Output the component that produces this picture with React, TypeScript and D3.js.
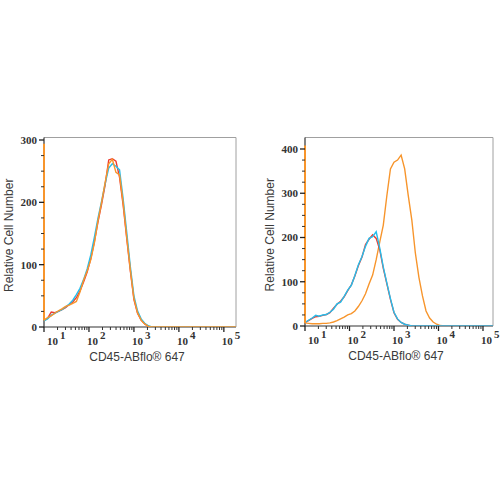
import * as d3 from "d3"

// histogram bins (fluorescence intensity, log spaced)
const BINS = [
  10, 12, 14.5, 17.4, 20.9, 25.1, 30.2, 36.3, 43.7, 52.5, 63.1, 75.9, 91.2, 110, 132, 158,
  191, 229, 275, 331, 398, 479, 575, 692, 832, 1000, 1202, 1445, 1738, 2089, 2512, 3020,
  3631, 4365, 5248, 6310, 7586, 9120, 10965, 13183, 200000,
]

// left panel
const LEFT_RED = [
  10, 14, 24, 23, 25, 28, 31, 36, 40, 47, 58, 72, 88, 110, 137, 168, 197, 228, 268, 270, 266,
  240, 196, 142, 90, 44, 22, 11, 5, 1, 0, 0, 0, 0, 0, 0, 0, 0, 0, 0, 0,
]
const LEFT_ORANGE = [
  11, 15, 18, 22, 26, 29, 33, 35, 38, 41, 56, 75, 90, 108, 135, 170, 200, 232, 262, 269, 248,
  244, 200, 144, 92, 46, 23, 11, 5, 1, 0, 0, 0, 0, 0, 0, 0, 0, 0, 0, 0,
]
const LEFT_CYAN = [
  10, 13, 19, 22, 25, 28, 32, 37, 43, 52, 62, 76, 93, 116, 144, 174, 202, 230, 255, 262, 258,
  252, 206, 152, 97, 50, 26, 13, 6, 2, 0, 0, 0, 0, 0, 0, 0, 0, 0, 0, 0,
]
const LEFT_ORANGE_SPIKE = 294

// right panel
const RIGHT_RED = [
  8, 12, 17, 21, 22, 24, 26, 30, 40, 49, 56, 66, 80, 93, 113, 136, 156, 184, 196, 206, 198,
  172, 130, 95, 60, 30, 15, 8, 4, 2, 0, 0, 0, 0, 0, 0, 0, 0, 0, 0, 0,
]
const RIGHT_CYAN = [
  8, 13, 18, 24, 22, 25, 26, 31, 38, 50, 54, 67, 81, 92, 114, 138, 157, 180, 198, 202, 213,
  176, 133, 97, 62, 31, 16, 8, 4, 2, 0, 0, 0, 0, 0, 0, 0, 0, 0, 0, 0,
]
const RIGHT_ORANGE = [
  7, 6, 5, 5, 5, 6, 6, 7, 9, 12, 16, 20, 25, 28, 34, 44, 57, 73, 95, 115, 150, 190, 228, 295,
  355, 370, 375, 386, 355, 295, 240, 165, 110, 68, 34, 18, 9, 4, 1, 0, 0,
]
const RIGHT_ORANGE_SPIKE = 408

const X_TICKS = [10, 100, 1000, 10000, 100000]
const LEFT_Y_TICKS = [0, 100, 200, 300]
const RIGHT_Y_TICKS = [0, 100, 200, 300, 400]

const X_TITLE = "CD45-ABflo® 647"
const Y_TITLE = "Relative Cell Number"

const RED = "#ee3b2f"
const ORANGE = "#f7952c"
const CYAN = "#25bdec"

interface PanelProps {
  id: string
  x0: number
  x1: number
  yTop: number
  yBottom: number
  xMax: number
  y0Px: number
  yMaxPx: number
  yTicks: number[]
  series: { values: number[]; color: string; spike?: number }[]
}

function Panel({ id, x0, x1, yTop, yBottom, xMax, y0Px, yMaxPx, yTicks, series }: PanelProps) {
  const yMaxTick = yTicks[yTicks.length - 1]
  const x = d3.scaleLog().domain([10, xMax]).range([x0, x1])
  const y = d3.scaleLinear().domain([0, yMaxTick]).range([y0Px, yMaxPx])
  const line = d3
    .line<[number, number]>()
    .x((d) => x(d[0]))
    .y((d) => y(d[1]))

  const minor: number[] = []
  for (let dec = 10; dec < xMax; dec *= 10) {
    for (let k = 2; k <= 9; k++) if (dec * k < xMax) minor.push(dec * k)
  }
  const yMinor = d3.range(0, yMaxTick + 1, 25).filter((v) => v % 100 !== 0)
  const spikes = series.filter((s) => s.spike !== undefined)

  return (
    <g>
      <defs>
        <clipPath id={id}>
          <rect x={x0} y={yTop} width={x1 - x0} height={yBottom - yTop} />
        </clipPath>
      </defs>
      {/* frame */}
      <path d={`M${x0},${yTop}H${x1}V${yBottom}`} fill="none" stroke="#a0a0a0" strokeWidth={1} />
      <path d={`M${x0},${yTop}V${yBottom}H${x1}`} fill="none" stroke="#333" strokeWidth={1.2} />
      <g clipPath={`url(#${id})`}>
        {series.map((s, i) => {
          const pts: [number, number][] = BINS.map((b, j) => [b, s.values[j]])
          return <path key={i} d={line(pts) ?? ""} fill="none" stroke={s.color} strokeWidth={1.4} />
        })}
      </g>
      {spikes.map((s, i) => (
        <line
          key={"spike" + i}
          x1={x0}
          x2={x0}
          y1={y(s.spike as number)}
          y2={y(s.values[0])}
          stroke={s.color}
          strokeWidth={2}
        />
      ))}
      {/* x ticks */}
      {minor.map((v) => (
        <line key={v} x1={x(v)} x2={x(v)} y1={yBottom} y2={yBottom + 3} stroke="#333" strokeWidth={1} />
      ))}
      {X_TICKS.map((v, i) => (
        <g key={v}>
          <line x1={x(v)} x2={x(v)} y1={yBottom} y2={yBottom + 5} stroke="#222" strokeWidth={1.3} />
          <text
            x={x(v) + (i === 0 ? 3 : -2)}
            y={yBottom + 18}
            fontFamily="'Liberation Serif', serif"
            fontWeight="bold"
            fontSize={11}
            fill="#333"
          >
            10
            <tspan dx={2} dy={-6} fontSize={11}>
              {Math.round(Math.log10(v))}
            </tspan>
          </text>
        </g>
      ))}
      {/* y ticks */}
      {yMinor.map((v) => (
        <line key={v} x1={x0 - 3} x2={x0} y1={y(v)} y2={y(v)} stroke="#333" strokeWidth={1} />
      ))}
      {yTicks.map((v) => (
        <g key={v}>
          <line x1={x0 - 5} x2={x0} y1={y(v)} y2={y(v)} stroke="#222" strokeWidth={1.3} />
          <text
            x={x0 - 7}
            y={y(v)}
            dy="0.35em"
            textAnchor="end"
            fontFamily="'Liberation Serif', serif"
            fontWeight="bold"
            fontSize={11}
            fill="#333"
          >
            {v}
          </text>
        </g>
      ))}
      <text
        x={(x0 + x1) / 2 - 3}
        y={yBottom + 34}
        textAnchor="middle"
        fontFamily="'Liberation Sans', Arial, sans-serif"
        fontSize={12}
        fill="#3a3a3a"
      >
        {X_TITLE}
      </text>
      <text
        transform={`translate(${x0 - 31},${(yTop + yBottom) / 2 + 3}) rotate(-90)`}
        textAnchor="middle"
        fontFamily="'Liberation Sans', Arial, sans-serif"
        fontSize={12}
        fill="#3a3a3a"
      >
        {Y_TITLE}
      </text>
    </g>
  )
}

export default function App() {
  return (
    <svg width={500} height={500} style={{ position: "absolute", left: 0, top: 0, background: "#fff" }}>
      <Panel
        id="clipL"
        x0={44}
        x1={236}
        yTop={137.5}
        yBottom={327}
        xMax={Math.pow(10, 5.27)}
        y0Px={327}
        yMaxPx={140}
        yTicks={LEFT_Y_TICKS}
        series={[
          { values: LEFT_RED, color: RED },
          { values: LEFT_CYAN, color: CYAN },
          { values: LEFT_ORANGE, color: ORANGE, spike: LEFT_ORANGE_SPIKE },
        ]}
      />
      <Panel
        id="clipR"
        x0={305}
        x1={493}
        yTop={137.5}
        yBottom={326}
        xMax={Math.pow(10, 5.225)}
        y0Px={326}
        yMaxPx={149}
        yTicks={RIGHT_Y_TICKS}
        series={[
          { values: RIGHT_ORANGE, color: ORANGE, spike: RIGHT_ORANGE_SPIKE },
          { values: RIGHT_RED, color: RED },
          { values: RIGHT_CYAN, color: CYAN },
        ]}
      />
    </svg>
  )
}
